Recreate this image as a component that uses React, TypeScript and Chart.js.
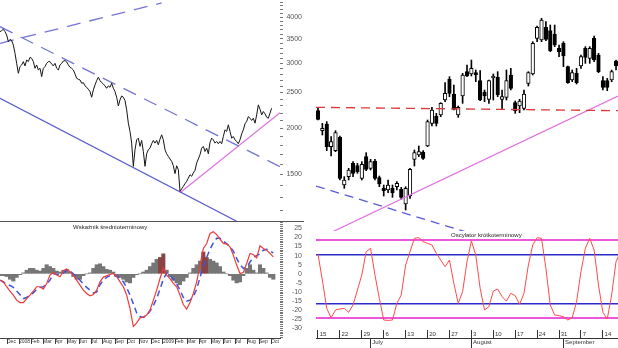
import React, { useEffect, useRef } from "react";
import { Chart, registerables } from "chart.js";

Chart.register(...registerables);

const FONT = '"Liberation Sans", Arial, Helvetica, sans-serif';

// ---------------- Left panel: index, log scale ----------------
const priceValues = [
  3657, 3680, 3710, 3657, 3582, 3436, 3485, 3457, 3365, 3194,
  3001, 2820, 2940, 2970, 3033, 2952, 3064, 3033, 3116, 3096,
  3033, 2909, 2970, 2879, 2909, 2762, 2909, 2940, 3001, 3033,
  3033, 2990, 2952, 3001, 2909, 2879, 2970, 3001, 3045, 3052,
  3027, 2970, 2927, 2909, 2879, 2808, 2733, 2716, 2705, 2649,
  2660, 2606, 2584, 2552, 2515, 2428, 2541, 2622, 2694, 2750,
  2694, 2660, 2638, 2606, 2568, 2606, 2584, 2649, 2568, 2515,
  2428, 2300, 2388, 2448, 2428, 2378, 2244, 2065, 1961, 1823,
  1577, 1749, 1861, 1881, 1786, 1854, 1731, 1577, 1706, 1749,
  1767, 1816, 1854, 1823, 1854, 1804, 1869, 1920, 1861, 1749,
  1706, 1678, 1651, 1627, 1583, 1507, 1583, 1544, 1350, 1370,
  1392, 1416, 1436, 1466, 1497, 1482, 1513, 1538, 1610, 1651,
  1696, 1767, 1786, 1731, 1767, 1706, 1830, 1881, 1861, 1823,
  1842, 1816, 1842, 1816, 1900, 1981, 1961, 2044, 1961, 1881,
  1900, 1861, 1842, 1816, 1861, 1932, 1981, 2057, 2087, 2152,
  2130, 2100, 2130, 2065, 2175, 2315, 2253, 2175, 2221, 2189,
  2143, 2130, 2198, 2267,
];
const priceTickLabels = [1500, 2000, 2500, 3000, 3500, 4000];

const channelTopX = [0, 97];
const channelTopY = [3400, 4376];
const resistanceX = [0, 168];
const resistanceY = [3772, 1573];
const supportX = [0, 144];
const supportY = [2412, 1107];
const riseX = [108, 168];
const riseY = [1338, 2204];

// medium-term indicator
const mtMacd = [
  -3.5, -4.4, -7.1, -9.5, -11.7, -14.5, -15.8, -15.8, -13.6, -11.7,
  -9.5, -7.1, -7.1, -8.4, -5.3, -0.7, 0.7, -0.7, -1.6, 1.5,
  2.6, 1.1, -0.7, -3.5, -6.2, -9.0, -10.8, -12.1, -11.4, -9.0,
  -4.4, -1.8, -1.1, -0.4, 0.2, -1.6, -4.4, -7.1, -11.7, -19.1,
  -29.0, -27.0, -24.2, -23.8, -22.7, -20.0, -14.5, -9.0, -2.6, 2.9,
  -0.7, -2.6, -5.3, -7.1, -11.7, -16.9, -19.4, -15.8, -10.8, -4.4,
  4.8, 13.9, 16.7, 22.2, 23.1, 21.6, 19.1, 16.7, 16.5, 14.8,
  10.3, 4.8, 0.2, 0.7, 5.7, 11.2, 10.6, 8.8, 15.4, 13.9,
  13.0, 11.2, 9.3,
];
const mtSignal = [
  -3.5, -4.5, -5.5, -6.4, -7.5, -9.5, -11.5, -13.6, -13.0, -11.7,
  -10.5, -8.5, -7.5, -7.1, -5.5, -3.5, 0, -0.3, -0.5, 0.5,
  2.0, 1.5, 0, -1.5, -3.5, -5.5, -7.5, -9.0, -10.5, -10.0,
  -6.0, -3.5, -2.0, -1.0, -0.8, -1.2, -2.5, -4.4, -7.5, -11.7,
  -16.5, -21.5, -23.5, -24.0, -23.0, -20.5, -17.5, -13.5, -8.5, -3.0,
  0.5, -1.0, -3.0, -5.5, -9.0, -13.0, -15.0, -14.5, -12.5, -8.5,
  -2.0, 4.0, 9.0, 13.5, 17.0, 19.5, 19.5, 18.0, 16.5, 15.0,
  12.5, 8.5, 5.0, 3.0, 3.5, 6.5, 9.0, 10.0, 11.0, 13.0,
  13.5, 12.5, 11.5,
];
const mtHist = [
  -1, -1, -1.5, -3, -4, -2, -0.5, 0.5, 2, 3,
  3, 2, 1.5, 3, 5, 4, 3, 1.5, 1, 2,
  2.5, 1, -1.5, -3, -3, -1, 0, 0.5, 3, 5,
  5.5, 4, 2.5, 2, 1, -1.5, -2, -3, -4.5, -5,
  -2, -0.5, 0, 1, 2, 4, 6, 8, 9, 11,
  2, -1.5, -3.5, -5, -6, -4, -2, 0.5, 3, 5,
  7, 12, 9, 8, 7, 6, 4, 1, 0, -1,
  -3.5, -5, -4.5, -1, 3, 5, 2, 0.5, 5, 3,
  0.5, -2, -3,
];
const mtTickLabels = [-30, -25, -20, -15, -10, -5, 0, 5, 10, 15, 20, 25];
const mtMonthIdx = [
  4.2, 11.4, 18.6, 25.8, 33.0, 40.2, 47.4, 54.6, 61.8, 69.0, 76.2, 83.4,
  90.6, 97.8, 105.0, 112.2, 119.4, 126.6, 133.8, 141.0, 148.2, 155.4, 162.6,
];
const mtMonthLabels = [
  "Dec", "2008", "Feb", "Mar", "Apr", "May", "Jun", "Jul", "Aug", "Sep", "Oct", "Nov",
  "Dec", "2009", "Feb", "Mar", "Apr", "May", "Jun", "Jul", "Aug", "Sep", "Oct",
];

// ---------------- Right panel: daily candles ----------------
const candleOpen = [
  2068, 2008, 2028, 1960, 1948, 1988, 1845, 1870, 1910, 1903,
  1865, 1930, 1895, 1917, 1867, 1835, 1830, 1835, 1840, 1832,
  1788, 1812, 1922, 1935, 1944, 1962, 2030, 2052, 2055, 2100,
  2162, 2118, 2055, 2112, 2185, 2178, 2182, 2158, 2124, 2102,
  2166, 2168, 2102, 2108, 2175, 2092, 2082, 2075, 2150, 2178,
  2285, 2280, 2318, 2308, 2298, 2255, 2270, 2200, 2160, 2180,
  2202, 2255, 2225, 2285, 2235, 2158, 2158, 2160, 2217, 2175,
];
const candleHigh = [
  2078, 2030, 2035, 1990, 2008, 1992, 1870, 1895, 1915, 1910,
  1915, 1942, 1922, 1922, 1872, 1845, 1860, 1845, 1855, 1838,
  1840, 1895, 1950, 1962, 1948, 2040, 2078, 2060, 2092, 2152,
  2170, 2145, 2082, 2180, 2205, 2220, 2190, 2188, 2130, 2160,
  2178, 2185, 2130, 2190, 2195, 2097, 2102, 2130, 2185, 2275,
  2322, 2345, 2335, 2325, 2325, 2265, 2275, 2202, 2190, 2195,
  2235, 2260, 2260, 2292, 2240, 2170, 2165, 2190, 2220, 2200,
];
const candleLow = [
  2040, 1995, 1948, 1932, 1945, 1860, 1835, 1860, 1870, 1880,
  1860, 1888, 1890, 1860, 1840, 1812, 1822, 1808, 1830, 1802,
  1770, 1805, 1902, 1930, 1922, 1960, 2022, 2022, 2050, 2095,
  2110, 2070, 2048, 2090, 2170, 2172, 2155, 2098, 2095, 2090,
  2100, 2110, 2072, 2100, 2130, 2060, 2062, 2070, 2142, 2175,
  2275, 2275, 2278, 2245, 2260, 2230, 2200, 2150, 2155, 2148,
  2195, 2210, 2210, 2215, 2182, 2130, 2128, 2155, 2190, 2170,
];
const candleClose = [
  2042, 2015, 1960, 1975, 2002, 1865, 1860, 1890, 1880, 1885,
  1907, 1892, 1915, 1865, 1848, 1828, 1845, 1822, 1850, 1808,
  1835, 1892, 1942, 1945, 1925, 2035, 2070, 2030, 2090, 2120,
  2120, 2072, 2078, 2175, 2172, 2195, 2175, 2100, 2112, 2158,
  2172, 2115, 2110, 2158, 2135, 2068, 2097, 2118, 2182, 2270,
  2318, 2340, 2282, 2248, 2265, 2245, 2232, 2152, 2182, 2152,
  2230, 2228, 2255, 2220, 2185, 2138, 2138, 2185, 2202, 2195,
];
const flatResX = [-0.45, 68.45];
const flatResY = [2078, 2068];
const fallX = [-0.45, 40];
const fallY = [1842, 1679];
const upX = [-0.45, 68.45];
const upY = [1681, 2112];

// short-term oscillator
const stOsc = [
  74.9, 48.7, 19.8, 10.2, 18.1, 19.1, 19.8, 15.7, 23.2, 38.5,
  53.8, 77.6, 81.0, 53.8, 30.0, 7.9, 7.5, 7.9, 24.9, 33.4,
  64.0, 77.6, 91.2, 91.9, 87.8, 86.1, 84.4, 75.9, 69.1, 62.3,
  69.1, 45.3, 24.9, 36.8, 67.4, 88.5, 74.2, 40.2, 18.1, 21.5,
  37.4, 39.5, 31.7, 27.2, 35.1, 32.7, 23.9, 35.1, 64.0, 84.4,
  91.9, 91.2, 60.6, 23.2, 13.0, 12.3, 11.3, 7.9, 10.2, 26.6,
  57.2, 81.0, 91.2, 79.3, 43.6, 15.7, 8.9, 33.4, 67.4, 77.6,
];
const stOuterLevels = [10, 90];
const stInnerLevels = [25, 75];
const weekTickIdx = [0, 5, 10, 15, 20, 25, 30, 35, 40, 45, 50, 55, 60, 65];
const weekTickLabels = ["15", "22", "29", "6", "13", "20", "27", "3", "10", "17", "24", "31", "7", "14"];
const monthTickIdx = [12, 35, 56];
const monthTickLabels = ["July", "August", "September"];

// ---------------- helpers ----------------
const pts = (xs: number[], ys: number[]) => xs.map((x, i) => ({ x, y: ys[i] }));
const seq = (arr: number[], step: number) => arr.map((y, i) => ({ x: i * step, y }));

const base = {
  animation: false,
  responsive: false,
  events: [],
  plugins: { legend: { display: false }, tooltip: { enabled: false }, title: { display: false } },
};

const lineDs = (data: any, color: string, width: number, dash: number[] = [], order = 0) => ({
  type: "line",
  data,
  borderColor: color,
  borderWidth: width,
  borderDash: dash,
  pointRadius: 0,
  fill: false,
  tension: 0,
  order,
});

function ChartBox({ left, top, width, height, config }: { left: number; top: number; width: number; height: number; config: () => any }) {
  const ref = useRef<HTMLCanvasElement | null>(null);
  useEffect(() => {
    if (!ref.current) return;
    const chart = new Chart(ref.current, config());
    return () => chart.destroy();
  }, []);
  return <canvas ref={ref} width={width} height={height} style={{ position: "absolute", left, top, width, height }} />;
}

const priceConfig = () => ({
  type: "line",
  data: {
    datasets: [
      lineDs(seq(priceValues, 1), "#151515", 1, [], 0),
      lineDs(pts(channelTopX, channelTopY), "#7474d6", 1.3, [14, 9], 1),
      lineDs(pts(resistanceX, resistanceY), "#7474d6", 1.3, [14, 9], 1),
      lineDs(pts(supportX, supportY), "#5a5acc", 1.2, [], 1),
      lineDs(pts(riseX, riseY), "#e070e0", 1.2, [], 1),
    ],
  },
  options: {
    ...base,
    layout: { padding: 0 },
    scales: {
      x: { type: "linear", min: 0, max: 168, display: false },
      y: {
        type: "logarithmic",
        position: "right",
        min: 1121,
        max: 4456,
        afterBuildTicks: (s: any) => {
          const t = [];
          for (let v = 1200; v <= 4400; v += 100) t.push({ value: v });
          s.ticks = t;
        },
        afterFit: (s: any) => {
          s.width = 22;
          s.paddingTop = 0;
          s.paddingBottom = 0;
        },
        ticks: {
          autoSkip: false,
          padding: 1,
          crossAlign: "far",
          color: "#555",
          font: { family: FONT, size: 7 },
          callback: (v: any) => (priceTickLabels.includes(Number(v)) ? String(v) : ""),
        },
        grid: { drawOnChartArea: false, drawTicks: true, tickLength: 3, color: "#777", lineWidth: 1 },
        border: { display: false },
      },
    },
  },
});

const mtConfig = () => ({
  type: "bar",
  data: {
    datasets: [
      lineDs(seq(mtMacd, 2), "#f03a3a", 1.2, [], 1),
      lineDs(seq(mtSignal, 2), "#3a55dd", 1.5, [6, 4], 2),
      {
        type: "bar",
        data: seq(mtHist, 2),
        backgroundColor: (c: any) => (Math.abs(mtHist[c.dataIndex]) > 8.5 ? "#8a4444" : "#767676"),
        barThickness: 3.4,
        grouped: false,
        borderWidth: 0,
        order: 3,
      },
    ],
  },
  options: {
    ...base,
    layout: { padding: 0 },
    scales: {
      x: {
        type: "linear",
        min: 0,
        max: 168,
        offset: false,
        position: "bottom",
        afterBuildTicks: (s: any) => {
          s.ticks = mtMonthIdx.map((v) => ({ value: v }));
        },
        afterFit: (s: any) => {
          s.height = 10;
          s.paddingLeft = 0;
          s.paddingRight = 0;
        },
        ticks: {
          autoSkip: false,
          maxRotation: 0,
          minRotation: 0,
          align: "start",
          padding: -5,
          color: "#333",
          font: { family: FONT, size: 5 },
          callback: (v: any) => {
            const k = mtMonthIdx.indexOf(Number(v));
            return k >= 0 ? mtMonthLabels[k] : "";
          },
        },
        grid: { drawOnChartArea: false, offset: false, tickLength: 6, color: "#444" },
        border: { display: true, color: "#444", width: 1 },
      },
      y: {
        type: "linear",
        position: "right",
        min: -35.3,
        max: 28.5,
        afterBuildTicks: (s: any) => {
          const t = [];
          for (let v = -35; v <= 28; v += 1) t.push({ value: v });
          s.ticks = t;
        },
        afterFit: (s: any) => {
          s.width = 22;
          s.paddingTop = 0;
          s.paddingBottom = 0;
        },
        ticks: {
          autoSkip: false,
          padding: 1,
          crossAlign: "far",
          color: "#555",
          font: { family: FONT, size: 7 },
          callback: (v: any) => (mtTickLabels.includes(Number(v)) ? String(v) : ""),
        },
        grid: { drawOnChartArea: false, drawTicks: true, tickLength: 3, color: "#777", lineWidth: 1 },
        border: { display: false },
      },
    },
  },
});

const candleConfig = () => ({
  type: "bar",
  data: {
    datasets: [
      lineDs(pts(flatResX, flatResY), "#dd3a3a", 1.3, [9, 6], 0),
      lineDs(pts(fallX, fallY), "#5a5ad8", 1.3, [9, 6], 0),
      lineDs(pts(upX, upY), "#e070e0", 1.2, [], 0),
      {
        type: "bar",
        data: candleOpen.map((o, i) => ({ x: i, y: [Math.min(o, candleClose[i]), Math.max(o, candleClose[i])] })),
        backgroundColor: (c: any) => (candleClose[c.dataIndex] >= candleOpen[c.dataIndex] ? "#ffffff" : "#000000"),
        borderColor: "#000",
        borderWidth: 1,
        borderSkipped: false,
        barThickness: 3.6,
        grouped: false,
        order: 1,
      },
      {
        type: "bar",
        data: candleLow.map((l, i) => ({ x: i, y: [l, candleHigh[i]] })),
        backgroundColor: "#000",
        borderWidth: 0,
        barThickness: 1,
        grouped: false,
        order: 2,
      },
    ],
  },
  options: {
    ...base,
    layout: { padding: 0 },
    scales: {
      x: { type: "linear", min: -0.45, max: 68.45, offset: false, display: false },
      y: { type: "linear", min: 1707, max: 2400, display: false },
    },
  },
});

const stConfig = () => ({
  type: "line",
  data: { datasets: [lineDs(seq(stOsc, 1), "#ff4a4a", 1, [], 0)] },
  options: {
    ...base,
    layout: { padding: { top: 1, left: 0, right: 0, bottom: 0 } },
    scales: {
      x: {
        type: "linear",
        min: -0.45,
        max: 68.45,
        position: "bottom",
        weight: 0,
        afterBuildTicks: (s: any) => {
          s.ticks = weekTickIdx.map((v) => ({ value: v }));
        },
        afterFit: (s: any) => {
          s.height = 8;
          s.paddingLeft = 0;
          s.paddingRight = 0;
        },
        ticks: {
          autoSkip: false,
          maxRotation: 0,
          minRotation: 0,
          align: "start",
          padding: -7,
          color: "#333",
          font: { family: FONT, size: 6 },
          callback: (v: any) => {
            const k = weekTickIdx.indexOf(Number(v));
            return k >= 0 ? " " + weekTickLabels[k] : "";
          },
        },
        grid: { drawOnChartArea: false, tickLength: 8, color: "#333" },
        border: { display: false },
      },
      xMonth: {
        type: "linear",
        min: -0.45,
        max: 68.45,
        position: "bottom",
        weight: 1,
        afterBuildTicks: (s: any) => {
          s.ticks = monthTickIdx.map((v) => ({ value: v }));
        },
        afterFit: (s: any) => {
          s.height = 10;
          s.paddingLeft = 0;
          s.paddingRight = 0;
        },
        ticks: {
          autoSkip: false,
          maxRotation: 0,
          minRotation: 0,
          align: "start",
          padding: -9,
          color: "#333",
          font: { family: FONT, size: 6 },
          callback: (v: any) => {
            const k = monthTickIdx.indexOf(Number(v));
            return k >= 0 ? " " + monthTickLabels[k] : "";
          },
        },
        grid: { drawOnChartArea: false, tickLength: 10, color: "#333" },
        border: { display: true, color: "#333", width: 1 },
      },
      y: {
        type: "linear",
        min: -2.3,
        max: 99.7,
        afterBuildTicks: (s: any) => {
          s.ticks = [...stOuterLevels, ...stInnerLevels].map((v) => ({ value: v }));
        },
        afterFit: (s: any) => {
          s.width = 0;
          s.paddingTop = 0;
          s.paddingBottom = 0;
        },
        ticks: { display: false },
        grid: {
          drawTicks: false,
          color: (c: any) => (c.tick && stOuterLevels.includes(c.tick.value) ? "#ee55dd" : "#2a2acc"),
          lineWidth: (c: any) => (c.tick && stOuterLevels.includes(c.tick.value) ? 2 : 1.4),
        },
        border: { display: false },
      },
    },
  },
});

export default function App() {
  const titleStyle: React.CSSProperties = {
    position: "absolute",
    fontFamily: FONT,
    fontSize: 6,
    lineHeight: "7px",
    color: "#222",
    whiteSpace: "nowrap",
  };
  return (
    <div style={{ position: "fixed", left: 0, top: 0, width: 618, height: 348, overflow: "hidden", background: "#fff" }}>
      <ChartBox left={0} top={0} width={302} height={221} config={priceConfig} />
      <div style={{ position: "absolute", left: 0, top: 221, width: 304, height: 1, background: "#555" }} />
      <ChartBox left={0} top={222} width={302} height={126} config={mtConfig} />
      <div style={{ ...titleStyle, left: 73, top: 224 }}>Wskaźnik średnioterminowy</div>
      <ChartBox left={316} top={0} width={302} height={231} config={candleConfig} />
      <ChartBox left={316} top={229} width={302} height={119} config={stConfig} />
      <div style={{ ...titleStyle, left: 451, top: 232 }}>Oscylator krótkoterminowy</div>
    </div>
  );
}
